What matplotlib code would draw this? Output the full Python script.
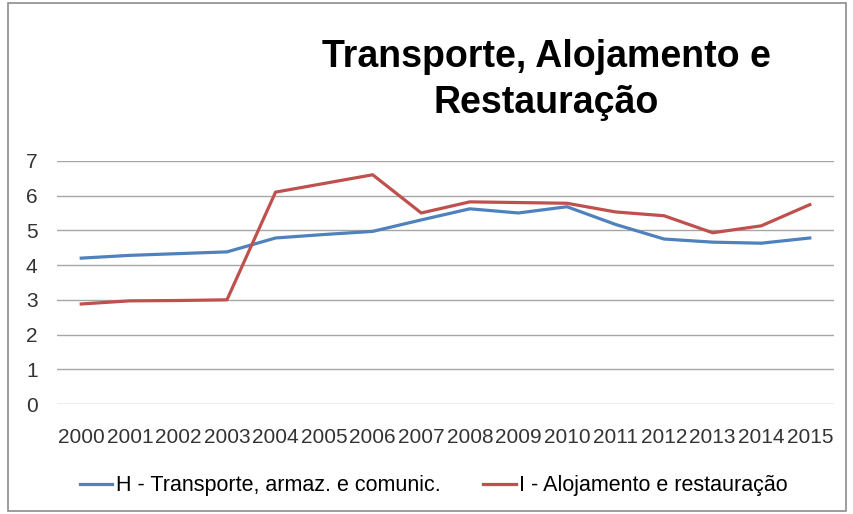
import matplotlib
matplotlib.use("Agg")
import matplotlib.pyplot as plt
from matplotlib.patches import Rectangle

years = [str(y) for y in range(2000, 2016)]
transporte = [4.2, 4.28, 4.33, 4.38, 4.78, 4.88, 4.97, 5.3, 5.62, 5.5, 5.68,
              5.17, 4.75, 4.66, 4.63, 4.78]
alojamento = [2.88, 2.97, 2.98, 3.0, 6.1, 6.35, 6.6, 5.5, 5.82, 5.8, 5.78,
              5.53, 5.42, 4.93, 5.13, 5.74]

plt.rcParams["font.family"] = ["Liberation Sans", "DejaVu Sans"]

fig = plt.figure(figsize=(8.54, 5.14), dpi=100)
ax = fig.add_axes([0.0667, 0.214, 0.91, 0.473])

x = list(range(len(years)))
ax.plot(x, transporte, color="#4F81BD", lw=2.3, label="H - Transporte, armaz. e comunic.")
ax.plot(x, alojamento, color="#C0504D", lw=2.3, label="I - Alojamento e restauração")

ax.set_xlim(-0.5, len(years) - 0.5)
ax.set_ylim(0, 7)
ax.set_yticks(range(0, 8))
ax.set_xticks(x)
ax.set_xticklabels(years)
ax.tick_params(length=0, labelsize=15, colors="#333333")
ax.tick_params(axis="y", pad=14)
ax.tick_params(axis="x", pad=17)
for s in ax.spines.values():
    s.set_visible(False)
ax.grid(axis="y", color="#A6A6A6", lw=1)
ax.set_axisbelow(True)

fig.text(0.64, 0.889, "Transporte, Alojamento e", ha="center", va="center",
         fontsize=27, fontweight="bold")
fig.text(0.64, 0.80, "Restauração", ha="center", va="center",
         fontsize=27, fontweight="bold")

fig.legend(loc="center", bbox_to_anchor=(0.508, 0.055), ncol=2, frameon=False,
           fontsize=15.5, handlelength=1.5, columnspacing=2.0, handletextpad=0.15)

fig.patches.append(Rectangle((0.009, 0.005), 0.982, 0.99, transform=fig.transFigure,
                             fill=False, edgecolor="#8C8C8C", lw=1.2))

fig.savefig("out.png", dpi=100)
